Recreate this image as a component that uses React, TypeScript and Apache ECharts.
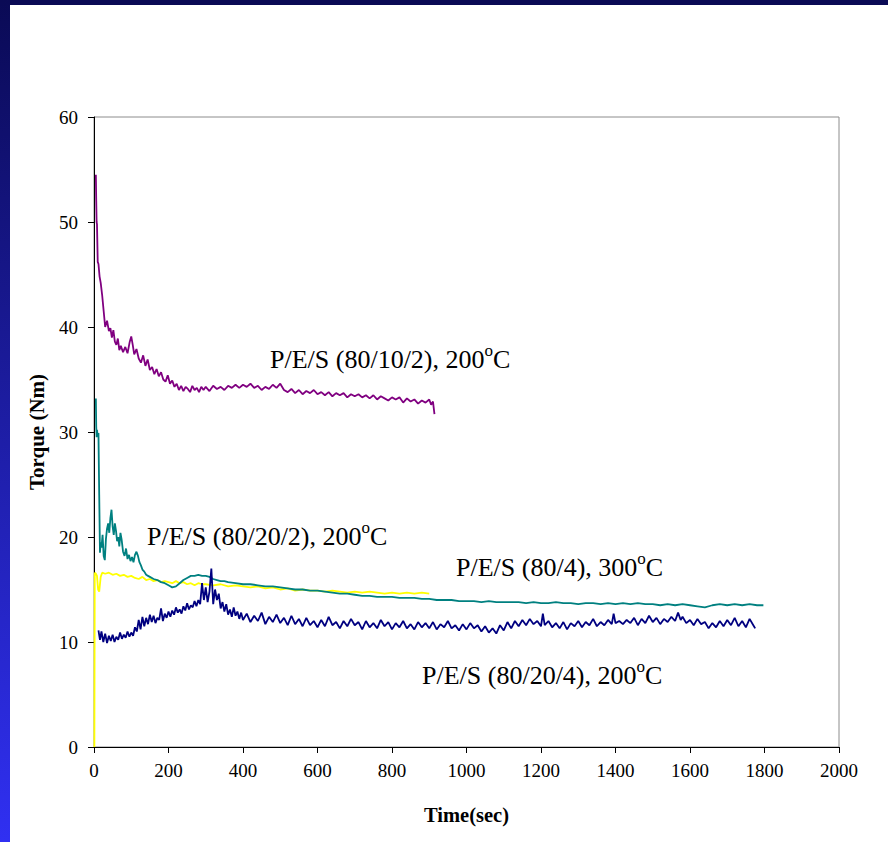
import React, { useEffect, useRef } from "react";
import * as echarts from "echarts";

// Time (s), torque (Nm) pairs
const pes80_10_2: [number, number][] = [
  [5, 54.5], [6, 52], [7, 50], [8, 49.8], [10, 46.2], [12, 46.0], [15, 44.8], [18, 44.2], [22, 43.0], [26, 41.5],
  [30, 40.0], [35, 40.6], [40, 39.6], [44, 39.9], [48, 39.0], [52, 39.7], [56, 38.6], [60, 38.3], [64, 38.9], [68, 37.8],
  [72, 38.2], [78, 37.6], [84, 38.1], [90, 37.5], [96, 38.6], [100, 39.1], [104, 38.3], [108, 37.4], [114, 37.9], [120, 37.0],
  [126, 36.6], [132, 37.3], [138, 36.3], [144, 36.9], [150, 35.9], [156, 36.2], [162, 35.5], [168, 36.0], [174, 35.3], [180, 35.7],
  [186, 35.0], [192, 34.8], [198, 35.4], [204, 34.6], [210, 34.9], [216, 34.3], [222, 34.6], [228, 34.0], [234, 34.4], [240, 33.9],
  [246, 34.3], [252, 34.1], [258, 33.8], [264, 34.4], [270, 34.0], [276, 34.2], [282, 33.8], [288, 34.3], [294, 34.0], [300, 34.3],
  [310, 33.9], [320, 34.4], [330, 34.1], [340, 34.3], [350, 34.0], [360, 34.4], [370, 34.2], [380, 34.5], [390, 34.2], [400, 34.5],
  [410, 34.3], [420, 34.6], [430, 34.2], [440, 34.4], [450, 34.0], [460, 34.3], [470, 34.1], [480, 34.5], [490, 34.2], [500, 34.6],
  [510, 34.0], [520, 33.8], [530, 34.1], [540, 33.7], [550, 34.0], [560, 33.6], [570, 33.9], [580, 33.7], [590, 34.0], [600, 33.6],
  [610, 33.8], [620, 33.5], [630, 33.8], [640, 33.4], [650, 33.7], [660, 33.5], [670, 33.7], [680, 33.3], [690, 33.6], [700, 33.4],
  [710, 33.6], [720, 33.3], [730, 33.5], [740, 33.2], [750, 33.5], [760, 33.1], [770, 33.4], [780, 33.2], [790, 33.0], [800, 33.3],
  [810, 33.1], [820, 33.3], [830, 32.8], [840, 33.2], [850, 32.9], [860, 33.1], [870, 32.7], [880, 33.0], [890, 32.8], [900, 33.1],
  [905, 32.6], [910, 32.9], [914, 31.7],
];

const pes80_20_2: [number, number][] = [
  [5, 33.2], [6, 30.5], [7, 29.5], [8, 30.2], [10, 29.6], [12, 29.9], [14, 24.0], [16, 18.5], [18, 19.5], [20, 19.0],
  [23, 20.2], [26, 18.2], [29, 17.8], [32, 19.8], [35, 20.8], [38, 21.3], [41, 20.4], [44, 21.8], [47, 22.6], [50, 21.0],
  [53, 20.2], [56, 21.3], [59, 20.6], [62, 19.6], [65, 20.0], [68, 19.1], [71, 20.4], [74, 19.8], [78, 18.6], [82, 18.2],
  [86, 18.9], [90, 17.9], [94, 18.3], [98, 17.7], [102, 18.1], [106, 17.6], [110, 18.3], [114, 18.6], [118, 18.2], [122, 17.6],
  [126, 17.3], [130, 16.9], [135, 16.7], [140, 16.4], [145, 16.3], [150, 16.2], [160, 16.0], [170, 15.9], [180, 15.7], [190, 15.6],
  [200, 15.4], [210, 15.2], [220, 15.3], [230, 15.6], [240, 15.9], [250, 16.1], [260, 16.3], [270, 16.3], [280, 16.4], [290, 16.3],
  [300, 16.3], [310, 16.2], [320, 16.0], [330, 15.9], [340, 15.8], [350, 15.8], [360, 15.7], [380, 15.6], [400, 15.5], [420, 15.5],
  [440, 15.4], [460, 15.3], [480, 15.3], [500, 15.2], [520, 15.1], [540, 15.0], [560, 15.0], [580, 14.9], [600, 14.9], [620, 14.8],
  [640, 14.7], [660, 14.6], [680, 14.6], [700, 14.5], [720, 14.4], [740, 14.4], [760, 14.3], [780, 14.3], [800, 14.3], [820, 14.2],
  [840, 14.2], [860, 14.2], [880, 14.1], [900, 14.1], [920, 14.0], [940, 14.0], [960, 14.0], [980, 13.9], [1000, 13.9], [1020, 13.9],
  [1040, 13.8], [1060, 13.9], [1080, 13.8], [1100, 13.8], [1120, 13.8], [1140, 13.8], [1160, 13.7], [1180, 13.8], [1200, 13.7], [1220, 13.7],
  [1240, 13.8], [1260, 13.7], [1280, 13.7], [1300, 13.6], [1320, 13.7], [1340, 13.7], [1360, 13.6], [1380, 13.7], [1400, 13.6], [1420, 13.7],
  [1440, 13.6], [1460, 13.7], [1480, 13.6], [1500, 13.6], [1520, 13.5], [1540, 13.6], [1560, 13.5], [1580, 13.6], [1600, 13.5], [1620, 13.4],
  [1640, 13.3], [1660, 13.5], [1680, 13.6], [1700, 13.5], [1720, 13.6], [1740, 13.5], [1760, 13.6], [1780, 13.5], [1797, 13.5],
];

const pes80_20_4: [number, number][] = [
  [12, 11.1], [16, 10.2], [20, 11.0], [25, 10.0], [30, 10.8], [35, 9.9], [40, 10.6], [45, 10.1], [50, 10.7], [55, 10.0],
  [60, 10.5], [65, 10.2], [70, 10.9], [75, 10.3], [80, 10.7], [85, 10.4], [90, 11.0], [95, 10.5], [100, 10.9], [105, 10.6],
  [110, 11.4], [115, 11.0], [120, 12.1], [125, 11.2], [130, 12.4], [135, 11.5], [140, 12.3], [145, 11.7], [150, 12.6], [155, 11.9],
  [160, 12.5], [165, 11.8], [170, 12.3], [175, 12.1], [180, 13.2], [185, 12.0], [190, 12.7], [195, 12.3], [200, 12.9], [205, 12.4],
  [210, 13.0], [215, 12.6], [220, 13.3], [225, 12.8], [230, 13.1], [235, 12.7], [240, 13.4], [245, 13.0], [250, 13.7], [255, 13.1],
  [260, 13.5], [265, 13.3], [270, 13.9], [275, 13.4], [280, 14.0], [285, 13.6], [290, 15.6], [295, 14.0], [300, 15.2], [305, 13.8],
  [310, 14.8], [315, 17.0], [320, 13.6], [325, 15.0], [330, 14.0], [335, 14.6], [340, 13.2], [345, 13.8], [350, 12.9], [355, 13.6],
  [360, 12.6], [365, 13.1], [370, 12.4], [375, 13.3], [380, 12.5], [385, 12.9], [390, 12.2], [395, 12.8], [400, 12.1], [410, 12.7],
  [420, 11.9], [430, 12.5], [440, 12.0], [450, 12.8], [460, 11.7], [470, 12.4], [480, 11.9], [490, 12.6], [500, 11.8], [510, 12.3],
  [520, 11.6], [530, 12.5], [540, 11.7], [550, 12.2], [560, 11.5], [570, 12.3], [580, 11.6], [590, 12.0], [600, 11.4], [610, 12.1],
  [620, 11.5], [630, 12.4], [640, 11.6], [650, 11.9], [660, 11.3], [670, 12.0], [680, 11.5], [690, 12.2], [700, 11.6], [710, 11.9],
  [720, 11.2], [730, 12.0], [740, 11.4], [750, 11.8], [760, 11.3], [770, 12.1], [780, 11.5], [790, 11.9], [800, 11.2], [810, 11.8],
  [820, 11.4], [830, 12.0], [840, 11.3], [850, 11.7], [860, 11.2], [870, 11.9], [880, 11.4], [890, 11.8], [900, 11.3], [910, 11.9],
  [920, 11.2], [930, 11.7], [940, 11.4], [950, 12.0], [960, 11.3], [970, 11.6], [980, 11.1], [990, 11.7], [1000, 11.2], [1010, 11.8],
  [1020, 11.3], [1030, 11.6], [1040, 11.0], [1050, 11.5], [1060, 10.9], [1070, 11.3], [1080, 10.8], [1090, 11.6], [1100, 11.1], [1110, 11.9],
  [1120, 11.3], [1130, 12.0], [1140, 11.5], [1150, 12.1], [1160, 11.6], [1170, 12.2], [1180, 11.7], [1190, 12.0], [1200, 11.5], [1205, 12.7],
  [1210, 11.6], [1220, 12.0], [1230, 11.4], [1240, 11.8], [1250, 11.3], [1260, 11.9], [1270, 11.2], [1280, 11.8], [1290, 11.5], [1300, 12.0],
  [1310, 11.4], [1320, 11.9], [1330, 11.6], [1340, 12.2], [1350, 11.5], [1360, 11.9], [1370, 11.6], [1380, 12.1], [1390, 11.7], [1395, 12.7],
  [1400, 11.8], [1410, 12.0], [1420, 11.7], [1430, 12.1], [1440, 11.8], [1450, 12.3], [1460, 11.6], [1470, 12.2], [1480, 11.8], [1490, 12.5],
  [1500, 11.9], [1510, 12.3], [1520, 11.7], [1530, 12.2], [1540, 11.9], [1550, 12.4], [1560, 12.0], [1568, 12.8], [1575, 12.1], [1580, 12.4],
  [1590, 11.8], [1600, 12.1], [1610, 11.6], [1620, 12.2], [1630, 11.7], [1640, 11.9], [1650, 11.3], [1660, 11.8], [1670, 11.4], [1680, 12.0],
  [1690, 11.5], [1700, 12.1], [1710, 11.6], [1720, 12.3], [1730, 11.5], [1740, 12.0], [1750, 11.4], [1760, 12.2], [1770, 11.6], [1775, 11.3],
];

const pes80_4: [number, number][] = [
  [1, 0], [2, 16.6], [5, 16.5], [8, 16.3], [11, 15.0], [14, 14.8], [18, 16.2], [22, 16.6], [30, 16.5], [40, 16.6],
  [50, 16.4], [60, 16.5], [70, 16.3], [80, 16.4], [90, 16.2], [100, 16.3], [110, 16.1], [120, 16.0], [130, 16.2], [140, 15.9],
  [150, 16.0], [160, 15.8], [170, 15.9], [180, 15.7], [190, 15.8], [200, 15.7], [210, 15.6], [220, 15.8], [230, 15.6], [240, 15.7],
  [250, 15.5], [260, 15.6], [270, 15.4], [280, 15.6], [290, 15.5], [300, 15.5], [320, 15.4], [340, 15.5], [360, 15.3], [380, 15.4],
  [400, 15.3], [420, 15.2], [440, 15.3], [460, 15.1], [480, 15.2], [500, 15.0], [520, 15.1], [540, 14.9], [560, 15.0], [580, 14.9],
  [600, 14.9], [620, 14.8], [640, 14.9], [660, 14.8], [680, 14.7], [700, 14.8], [720, 14.7], [740, 14.8], [760, 14.7], [780, 14.6],
  [800, 14.7], [820, 14.6], [840, 14.7], [860, 14.6], [880, 14.7], [900, 14.6],
];

const xTicks = { min: 0, max: 2000, interval: 200 };
const yTicks = { min: 0, max: 60, interval: 10 };

const SERIF = "Liberation Serif";

export default function App() {
  const ref = useRef<HTMLDivElement>(null);
  useEffect(() => {
    if (!ref.current) return;
    const chart = echarts.init(ref.current, null, { renderer: "svg" });
    const lineSeries = (name: string, data: [number, number][], color: string) => ({
      name,
      type: "line",
      data,
      showSymbol: false,
      symbol: "none",
      lineStyle: { color, width: 1.8 },
      itemStyle: { color },
    });
    const label = (left: number, top: number, main: string, tail: string) => ({
      type: "text",
      left,
      top,
      style: {
        text: `{t|${main}}{s|o}{t|${tail}}`,
        rich: {
          t: { fontFamily: SERIF, fontSize: 26, fill: "#000", lineHeight: 30, verticalAlign: "bottom" },
          s: { fontFamily: SERIF, fontSize: 17, fill: "#000", lineHeight: 30, verticalAlign: "top" },
        },
      },
    });
    chart.setOption({
      animation: false,
      backgroundColor: "#ffffff",
      textStyle: { fontFamily: SERIF },
      grid: {
        left: 94,
        right: 49,
        top: 117,
        bottom: 95,
        show: true,
        borderColor: "#8c8c8c",
        borderWidth: 1,
        backgroundColor: "#ffffff",
      },
      xAxis: {
        type: "value",
        ...xTicks,
        name: "Time(sec)",
        nameLocation: "middle",
        nameGap: 57,
        nameTextStyle: { fontFamily: SERIF, fontWeight: "bold", fontSize: 20.5, color: "#000" },
        axisLine: { show: true, lineStyle: { color: "#000", width: 1 } },
        axisTick: { show: true, inside: false, length: 6, lineStyle: { color: "#000" } },
        axisLabel: { fontFamily: SERIF, fontSize: 19, color: "#000", margin: 14, formatter: (v: number) => String(v) },
        splitLine: { show: false },
      },
      yAxis: {
        type: "value",
        ...yTicks,
        name: "Torque (Nm)",
        nameLocation: "middle",
        nameGap: 47,
        nameTextStyle: { fontFamily: SERIF, fontWeight: "bold", fontSize: 21, color: "#000" },
        axisLine: { show: true, lineStyle: { color: "#000", width: 1 } },
        axisTick: { show: true, inside: false, length: 6, lineStyle: { color: "#000" } },
        axisLabel: { fontFamily: SERIF, fontSize: 19, color: "#000", margin: 16, formatter: (v: number) => String(v) },
        splitLine: { show: false },
      },
      series: [
        lineSeries("P/E/S (80/4), 300°C", pes80_4, "#ffff00"),
        lineSeries("P/E/S (80/20/2), 200°C", pes80_20_2, "#008080"),
        lineSeries("P/E/S (80/20/4), 200°C", pes80_20_4, "#000080"),
        lineSeries("P/E/S (80/10/2), 200°C", pes80_10_2, "#800080"),
      ],
      graphic: [
        {
          type: "rect",
          left: 0,
          top: 0,
          shape: { width: 888, height: 5 },
          style: { fill: "#0a0a55" },
          z: -1,
        },
        {
          type: "rect",
          left: 0,
          top: 0,
          shape: { width: 10, height: 842 },
          style: {
            fill: new echarts.graphic.LinearGradient(0, 0, 0, 1, [
              { offset: 0, color: "#0a0a55" },
              { offset: 1, color: "#3030f2" },
            ]),
          },
          z: -1,
        },
        label(270, 342, "P/E/S (80/10/2), 200", "C"),
        label(147, 519, "P/E/S (80/20/2), 200", "C"),
        label(456, 550, "P/E/S (80/4), 300", "C"),
        label(422, 658, "P/E/S (80/20/4), 200", "C"),
      ],
    });
    return () => chart.dispose();
  }, []);
  return (
    <div
      ref={ref}
      style={{ position: "fixed", left: 0, top: 0, width: 888, height: 842, background: "#fff" }}
    />
  );
}
